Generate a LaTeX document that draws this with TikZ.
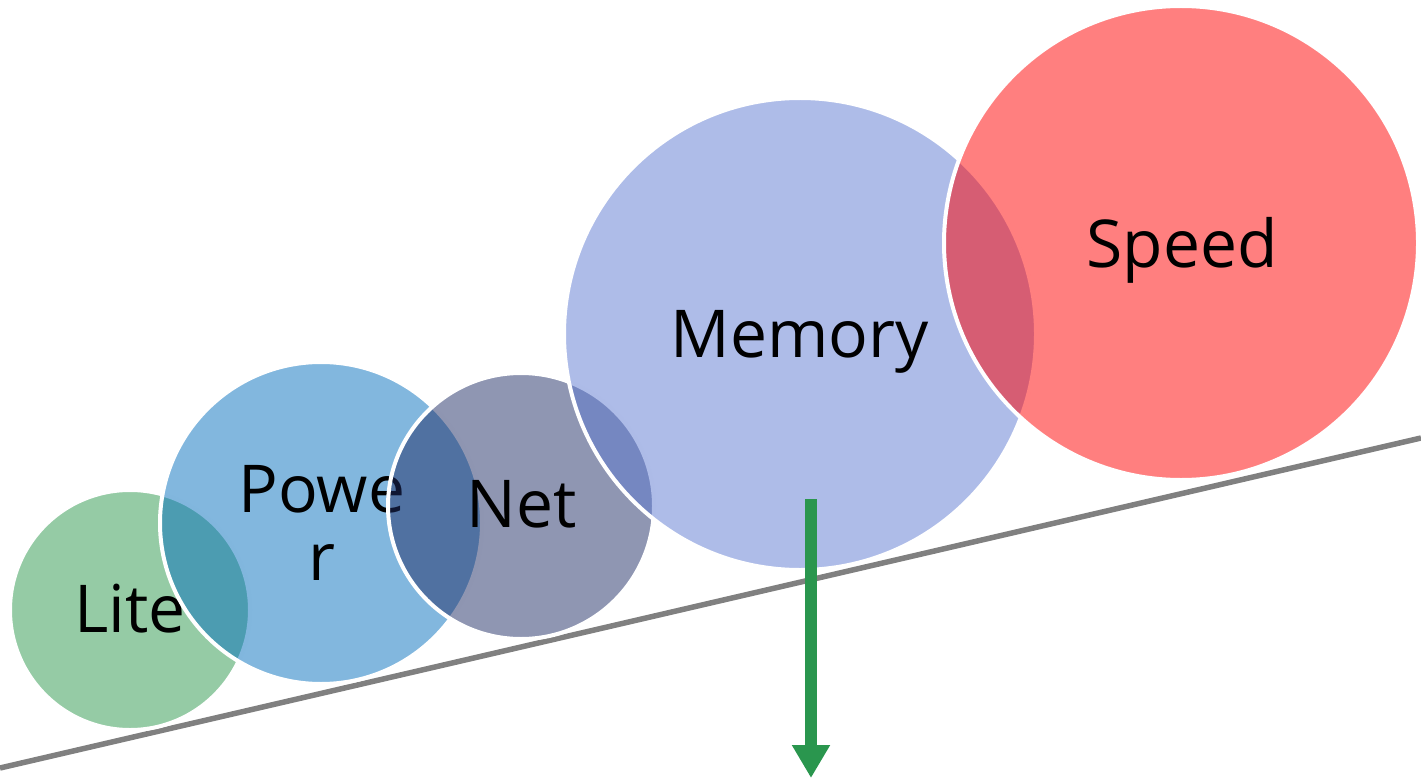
\documentclass[tikz,border=0pt]{standalone}
\usepackage{fontspec}
\setmainfont{Open Sans}
\usetikzlibrary{arrows.meta}
\definecolor{cLite}{RGB}{43,151,75}
\definecolor{cPower}{RGB}{5,111,189}
\definecolor{cNet}{RGB}{31,45,101}
\definecolor{cMem}{RGB}{93,121,209}
\definecolor{cSpeed}{RGB}{255,0,0}
\definecolor{cArrow}{RGB}{42,150,78}
\definecolor{cLine}{RGB}{128,128,128}
\tikzset{
  bubble/.style={circle, fill=#1, fill opacity=0.5, draw=white, draw opacity=1, line width=4pt, inner sep=0pt, outer sep=0pt},
  lbl/.style={font=\fontsize{66}{68}\selectfont, text=black, anchor=base, align=center, inner sep=0pt},
  slope/.style={draw=cLine, line width=5.5pt},
  downarrow/.style={draw=cArrow, line width=12pt, -{Triangle[width=36pt,length=33pt]}},
}
\begin{document}
\begin{tikzpicture}[x=1pt,y=-1pt]
\useasboundingbox (0,0) rectangle (1421,778);
\coordinate (L0) at (0,768);
\coordinate (L1) at (1421,438);
\draw[slope] (L0) -- (L1);
% Lite
\node[bubble=cLite, minimum size=240pt] (lite) at (130,610) {};
\node[lbl] (litet) at (130,632) {Lite};
% Power
\node[bubble=cPower, minimum size=322pt] (power) at (321,523) {};
\node[lbl] (powert) at (322,580) {Powe\\r};
% Net
\node[bubble=cNet, minimum size=266pt] (net) at (521,506) {};
\node[lbl] (nett) at (522,527) {Net};
% Memory
\node[bubble=cMem, minimum size=472pt] (mem) at (800,334) {};
\node[lbl] (memt) at (800,357) {Memory};
% Speed
\node[bubble=cSpeed, minimum size=474pt] (speed) at (1181,243) {};
\node[lbl] (speedt) at (1182,267) {Speed};
% arrow
\coordinate (A0) at (811,499);
\coordinate (A1) at (811,778);
\draw[downarrow] (A0) -- (A1);
\end{tikzpicture}
\end{document}
